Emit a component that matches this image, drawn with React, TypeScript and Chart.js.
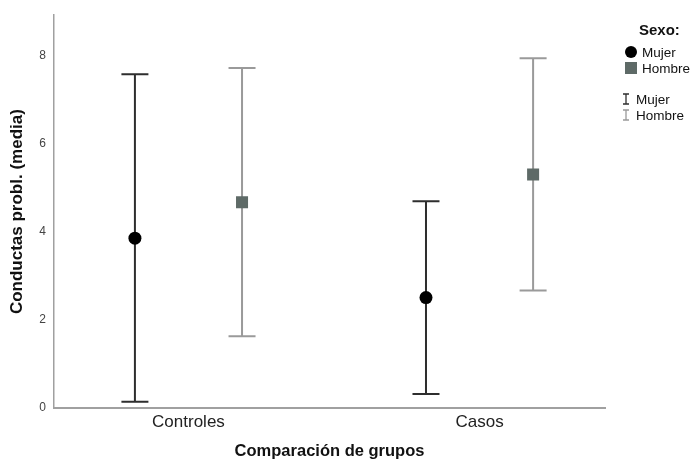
import React, { useEffect, useRef } from "react";
import { Chart, registerables } from "chart.js";

Chart.register(...registerables);

const categories = ["Controles", "Casos"];
const categoryPositions = [1, 2];
const seriesNames = ["Mujer", "Hombre"];
const mujerMean = [3.86, 2.51];
const mujerLow = [0.14, 0.32];
const mujerHigh = [7.59, 4.7];
const hombreMean = [4.68, 5.31];
const hombreLow = [1.63, 2.67];
const hombreHigh = [7.73, 7.95];
const yTicks = [0, 2, 4, 6, 8];
const groupOffset = 0.184;

const MUJER_COLOR = "#000000";
const MUJER_BAR = "#2e2e2e";
const HOMBRE_COLOR = "#5e6a67";
const HOMBRE_BAR = "#9a9a9a";
const FONT = "'Liberation Sans', Arial, Helvetica, sans-serif";

const errorBarsPlugin = {
  id: "errorBars",
  beforeDatasetsDraw(chart: any) {
    const { ctx, scales } = chart;
    const xs = scales.x;
    const ys = scales.y;
    const groups = [
      { mean: mujerMean, low: mujerLow, high: mujerHigh, off: -groupOffset, color: MUJER_BAR },
      { mean: hombreMean, low: hombreLow, high: hombreHigh, off: groupOffset, color: HOMBRE_BAR },
    ];
    ctx.save();
    groups.forEach((g) => {
      ctx.strokeStyle = g.color;
      ctx.lineWidth = 2;
      categoryPositions.forEach((c, i) => {
        const px = xs.getPixelForValue(c + g.off);
        const top = ys.getPixelForValue(g.high[i]);
        const bot = ys.getPixelForValue(g.low[i]);
        const cap = 13.5;
        ctx.beginPath();
        ctx.moveTo(px, top);
        ctx.lineTo(px, bot);
        ctx.moveTo(px - cap, top);
        ctx.lineTo(px + cap, top);
        ctx.moveTo(px - cap, bot);
        ctx.lineTo(px + cap, bot);
        ctx.stroke();
      });
    });
    ctx.restore();
  },
};

const legendPlugin = {
  id: "customLegend",
  afterDraw(chart: any) {
    const { ctx } = chart;
    ctx.save();
    ctx.textBaseline = "middle";
    ctx.textAlign = "left";
    ctx.fillStyle = "#111";
    ctx.font = `bold 15px ${FONT}`;
    ctx.fillText("Sexo:", 639, 31);
    ctx.font = `13.5px ${FONT}`;
    ctx.fillStyle = MUJER_COLOR;
    ctx.beginPath();
    ctx.arc(631, 52, 6, 0, Math.PI * 2);
    ctx.fill();
    ctx.fillStyle = HOMBRE_COLOR;
    ctx.fillRect(625, 62, 12, 12);
    ctx.fillStyle = "#111";
    ctx.fillText(seriesNames[0], 642, 53);
    ctx.fillText(seriesNames[1], 642, 69);
    const bars = [
      { y: 99, color: MUJER_BAR, label: seriesNames[0] },
      { y: 115, color: HOMBRE_BAR, label: seriesNames[1] },
    ];
    bars.forEach((b) => {
      ctx.strokeStyle = b.color;
      ctx.lineWidth = 1.3;
      ctx.beginPath();
      ctx.moveTo(626, b.y - 5);
      ctx.lineTo(626, b.y + 5);
      ctx.moveTo(623, b.y - 5);
      ctx.lineTo(629, b.y - 5);
      ctx.moveTo(623, b.y + 5);
      ctx.lineTo(629, b.y + 5);
      ctx.stroke();
      ctx.fillStyle = "#111";
      ctx.fillText(b.label, 636, b.y + 1);
    });
    ctx.restore();
  },
};

export default function App() {
  const ref = useRef<HTMLCanvasElement>(null);
  useEffect(() => {
    if (!ref.current) return;
    const chart = new Chart(ref.current, {
      type: "scatter",
      data: {
        datasets: [
          {
            label: seriesNames[0],
            data: categoryPositions.map((c, i) => ({ x: c - groupOffset, y: mujerMean[i] })),
            backgroundColor: MUJER_COLOR,
            borderColor: MUJER_COLOR,
            pointStyle: "circle",
            pointRadius: 6.5,
            borderWidth: 0,
          },
          {
            label: seriesNames[1],
            data: categoryPositions.map((c, i) => ({ x: c + groupOffset, y: hombreMean[i] })),
            backgroundColor: HOMBRE_COLOR,
            borderColor: HOMBRE_COLOR,
            pointStyle: "rect",
            pointRadius: 8.5,
            borderWidth: 0,
          },
        ],
      },
      options: {
        animation: false,
        responsive: false,
        maintainAspectRatio: false,
        layout: { padding: { left: 0, top: 13, right: 90, bottom: 0 } },
        plugins: {
          legend: { display: false },
          tooltip: { enabled: false },
        },
        scales: {
          x: {
            type: "linear",
            min: 0.538,
            max: 2.431,
            afterFit(scale: any) {
              scale.height = 53;
            },
            afterBuildTicks(scale: any) {
              scale.ticks = categoryPositions.map((v) => ({ value: v }));
            },
            grid: { display: false, drawTicks: false },
            border: { display: true, color: "#a0a0a0", width: 2 },
            ticks: {
              padding: 4,
              color: "#222",
              font: { size: 17, family: FONT },
              callback: (v: any) => {
                const idx = categoryPositions.indexOf(Number(v));
                return idx >= 0 ? categories[idx] : "";
              },
            },
            title: {
              display: true,
              text: "Comparación de grupos",
              color: "#111",
              font: { size: 16.5, weight: "bold", family: FONT },
              padding: { top: 0, bottom: 0 },
            },
          },
          y: {
            type: "linear",
            min: 0,
            max: 8.93,
            afterFit(scale: any) {
              scale.width = 54;
            },
            afterBuildTicks(scale: any) {
              scale.ticks = yTicks.map((v) => ({ value: v }));
            },
            grid: { display: false, drawTicks: false },
            border: { display: true, color: "#a0a0a0", width: 1.5 },
            ticks: {
              padding: 8,
              color: "#444",
              font: { size: 12, family: FONT },
            },
            title: {
              display: true,
              text: "Conductas probl. (media)",
              color: "#111",
              font: { size: 17, weight: "bold", family: FONT },
              padding: { top: 7, bottom: 0 },
            },
          },
        },
      },
      plugins: [errorBarsPlugin, legendPlugin],
    });
    return () => chart.destroy();
  }, []);
  return (
    <div style={{ position: "absolute", left: 0, top: 0, width: 695, height: 461, background: "#fff" }}>
      <canvas ref={ref} width={695} height={461} style={{ width: 695, height: 461 }} />
    </div>
  );
}
